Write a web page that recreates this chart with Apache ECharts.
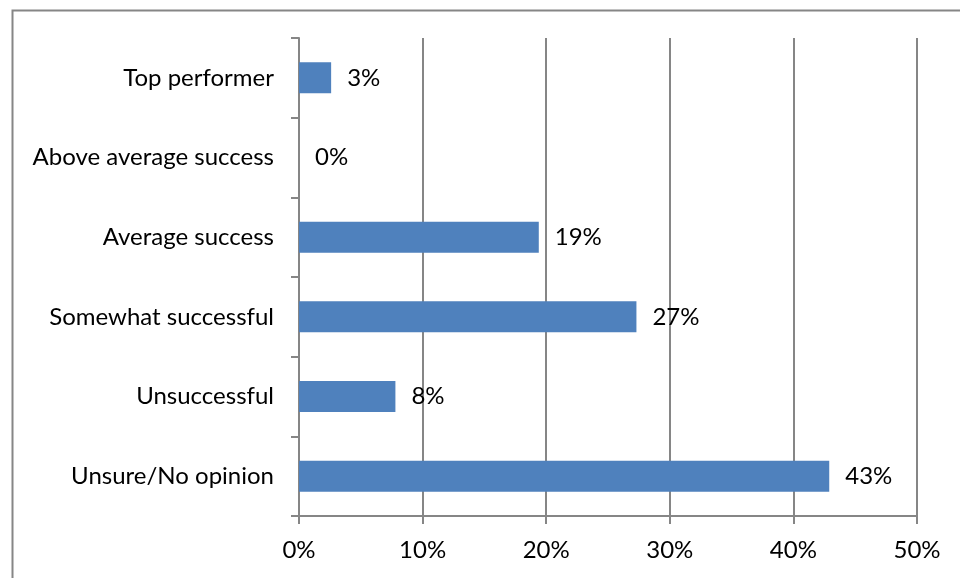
<!DOCTYPE html>
<html>
<head>
<meta charset="utf-8">
<script src="https://cdn.jsdelivr.net/npm/echarts@6/dist/echarts.min.js"></script>
<style>
html,body{margin:0;padding:0;background:#fff;}
#c{width:960px;height:578px;}
</style>
</head>
<body>
<div id="c"></div>
<script>
const categories = ['Top performer', 'Above average success', 'Average success', 'Somewhat successful', 'Unsuccessful', 'Unsure/No opinion'];
const values = [2.6, 0, 19.4, 27.3, 7.8, 42.9];
const xTicks = [0, 10, 20, 30, 40, 50];

const FONT = 'Lato';
const GREY = '#868686';
const chart = echarts.init(document.getElementById('c'), null, {renderer: 'canvas'});
chart.setOption({
  animation: false,
  backgroundColor: '#fff',
  graphic: [{
    type: 'rect', left: 10, top: 8,
    shape: {width: 1000, height: 700},
    style: {fill: 'none', stroke: GREY, lineWidth: 2}
  }],
  grid: {left: 299, right: 43, top: 38, bottom: 62, containLabel: false},
  xAxis: {
    type: 'value', min: xTicks[0], max: xTicks[xTicks.length - 1], interval: 10,
    axisLine: {show: true, lineStyle: {color: GREY, width: 2}},
    axisTick: {show: true, length: 8, lineStyle: {color: GREY, width: 2}},
    splitLine: {show: true, lineStyle: {color: GREY, width: 2}},
    axisLabel: {formatter: v => v + '%', color: '#000', fontFamily: FONT, fontSize: 24, margin: 22}
  },
  yAxis: {
    type: 'category', data: categories, inverse: true,
    axisLine: {show: true, lineStyle: {color: GREY, width: 2}},
    axisTick: {show: true, length: 8, lineStyle: {color: GREY, width: 2}},
    axisLabel: {color: '#000', fontFamily: FONT, fontSize: 24, margin: 25}
  },
  series: [{
    type: 'bar', data: values, barWidth: 31,
    itemStyle: {color: '#4F81BD'},
    label: {
      show: true, position: 'right', distance: 16,
      formatter: p => Math.round(p.value) + '%',
      color: '#000', fontFamily: FONT, fontSize: 24
    }
  }]
});
</script>
</body>
</html>
